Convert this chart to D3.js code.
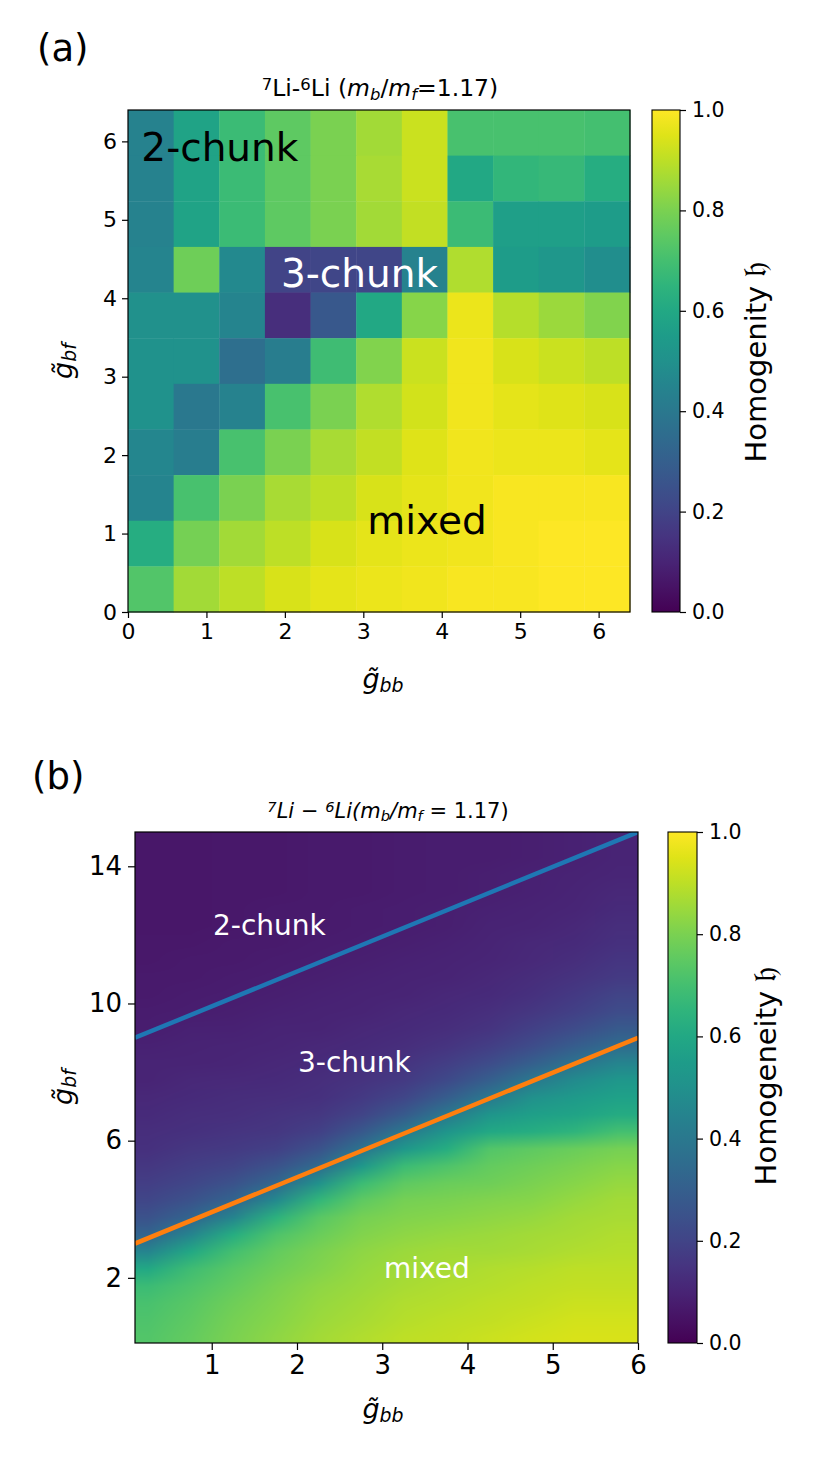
<!DOCTYPE html>
<html><head><meta charset="utf-8">
<script src="https://cdn.jsdelivr.net/npm/d3@7"></script>
<style>body{margin:0;background:#fff} text{font-family:"DejaVu Sans",sans-serif;}</style>
</head><body>
<svg id="chart" width="825" height="1469" xmlns="http://www.w3.org/2000/svg"></svg>
<script>
// ---------------- DATA ----------------
// Panel (a): 11x11 homogeneity grid, rows from top (g_bf high) to bottom, columns g_bb low -> high
const xTicksA = [0, 1, 2, 3, 4, 5, 6];
const yTicksA = [0, 1, 2, 3, 4, 5, 6];
const gridA = [
  [0.44,0.58,0.68,0.75,0.80,0.86,0.92,0.71,0.71,0.71,0.70],
  [0.44,0.58,0.68,0.75,0.80,0.87,0.92,0.60,0.66,0.67,0.62],
  [0.44,0.58,0.68,0.75,0.80,0.86,0.91,0.68,0.56,0.56,0.55],
  [0.45,0.78,0.47,0.20,0.21,0.21,0.44,0.88,0.55,0.53,0.49],
  [0.50,0.50,0.45,0.13,0.27,0.60,0.82,0.97,0.89,0.85,0.81],
  [0.51,0.51,0.36,0.42,0.69,0.81,0.92,0.98,0.94,0.92,0.90],
  [0.51,0.40,0.44,0.71,0.80,0.88,0.93,0.98,0.96,0.95,0.94],
  [0.46,0.42,0.71,0.80,0.87,0.91,0.95,0.98,0.97,0.97,0.96],
  [0.45,0.71,0.80,0.87,0.90,0.94,0.96,0.98,0.99,0.99,0.99],
  [0.62,0.79,0.86,0.90,0.94,0.96,0.97,0.98,0.99,1.00,1.00],
  [0.73,0.86,0.90,0.94,0.96,0.97,0.98,0.99,0.99,1.00,1.00]
];
// Panel (b): sampled homogeneity field, 12 columns (g_bb = 0.25 ... 5.75),
// each listing 30 values from g_bf = 14.75 (top) down to 0.25 (bottom)
const xTicksB = [1, 2, 3, 4, 5, 6];
const yTicksB = [2, 6, 10, 14];
const fieldB = [
  [0.06,0.06,0.06,0.06,0.06,0.06,0.065,0.065,0.07,0.07,0.075,0.08,0.09,0.1,0.1,0.11,0.12,0.13,0.14,0.16,0.18,0.21,0.25,0.32,0.45,0.6,0.68,0.71,0.72,0.73],
  [0.06,0.06,0.06,0.06,0.06,0.06,0.065,0.07,0.07,0.075,0.08,0.09,0.095,0.1,0.11,0.12,0.13,0.14,0.16,0.18,0.21,0.25,0.32,0.45,0.6,0.69,0.72,0.74,0.75,0.76],
  [0.065,0.065,0.065,0.065,0.065,0.065,0.07,0.07,0.075,0.08,0.085,0.09,0.1,0.105,0.115,0.125,0.135,0.15,0.17,0.2,0.25,0.32,0.45,0.62,0.7,0.74,0.76,0.78,0.79,0.8],
  [0.065,0.065,0.065,0.065,0.07,0.07,0.07,0.075,0.08,0.085,0.09,0.1,0.105,0.11,0.12,0.13,0.145,0.16,0.19,0.25,0.33,0.47,0.64,0.72,0.76,0.78,0.8,0.81,0.82,0.83],
  [0.07,0.07,0.07,0.07,0.07,0.07,0.075,0.08,0.085,0.09,0.095,0.1,0.11,0.12,0.13,0.14,0.16,0.19,0.25,0.34,0.5,0.66,0.74,0.77,0.8,0.81,0.83,0.84,0.85,0.86],
  [0.07,0.07,0.07,0.07,0.075,0.075,0.08,0.085,0.09,0.095,0.1,0.11,0.12,0.13,0.145,0.165,0.2,0.27,0.38,0.53,0.68,0.75,0.79,0.81,0.83,0.84,0.85,0.86,0.87,0.88],
  [0.075,0.075,0.075,0.075,0.08,0.08,0.085,0.09,0.095,0.1,0.11,0.12,0.13,0.15,0.17,0.21,0.28,0.4,0.53,0.68,0.75,0.79,0.81,0.83,0.85,0.86,0.87,0.88,0.89,0.9],
  [0.08,0.08,0.08,0.08,0.085,0.085,0.09,0.095,0.1,0.11,0.12,0.13,0.15,0.18,0.22,0.29,0.4,0.52,0.62,0.72,0.77,0.8,0.82,0.84,0.86,0.87,0.88,0.89,0.9,0.91],
  [0.08,0.08,0.085,0.085,0.09,0.095,0.1,0.105,0.11,0.12,0.135,0.15,0.18,0.23,0.3,0.4,0.52,0.6,0.73,0.76,0.78,0.81,0.83,0.85,0.86,0.88,0.89,0.9,0.91,0.92],
  [0.085,0.085,0.09,0.09,0.095,0.1,0.11,0.115,0.125,0.14,0.16,0.19,0.23,0.3,0.4,0.5,0.56,0.62,0.75,0.78,0.8,0.82,0.84,0.86,0.87,0.89,0.9,0.91,0.92,0.93],
  [0.09,0.09,0.095,0.1,0.105,0.11,0.12,0.13,0.145,0.165,0.19,0.23,0.29,0.38,0.48,0.54,0.58,0.65,0.77,0.8,0.82,0.84,0.86,0.87,0.88,0.9,0.91,0.92,0.93,0.94],
  [0.1,0.1,0.105,0.11,0.12,0.13,0.14,0.155,0.17,0.2,0.23,0.28,0.35,0.45,0.53,0.57,0.61,0.7,0.79,0.82,0.84,0.86,0.87,0.88,0.89,0.9,0.91,0.92,0.93,0.94]
];
const blueLineX = [0.1, 6.0];
const blueLineY = [9.0, 15.0];
const orangeLineX = [0.1, 6.0];
const orangeLineY = [3.0, 9.0];
const cbTicks = [0.0, 0.2, 0.4, 0.6, 0.8, 1.0];

// ---------------- DRAWING ----------------
const svg = d3.select("#chart");
const cmap = d3.interpolateViridis;

function rich(sel, parts) {
  parts.forEach(p => {
    const ts = sel.append("tspan").text(p.t);
    if (p.it) ts.attr("font-style", "italic");
    if (p.sub) ts.attr("font-size", "70%").attr("baseline-shift", "-22%");
    if (p.sup) ts.attr("font-size", "70%").attr("baseline-shift", "40%");
  });
  return sel;
}

function colorbar(g, x0, x1, y0, y1, labelText, fsTick, fsLab, labX, labY) {
  const id = "grad" + Math.round(y0);
  const grad = svg.append("defs").append("linearGradient").attr("id", id)
    .attr("x1", 0).attr("y1", 1).attr("x2", 0).attr("y2", 0);
  d3.range(0, 1.0001, 0.05).forEach(t => grad.append("stop").attr("offset", t).attr("stop-color", cmap(t)));
  const cs = d3.scaleLinear().domain([0, 1]).range([y1, y0]);
  g.append("rect").attr("x", x0).attr("y", y0).attr("width", x1 - x0).attr("height", y1 - y0)
    .attr("fill", `url(#${id})`).attr("stroke", "#000").attr("stroke-width", 1.1);
  const ax = g.append("g").attr("transform", `translate(${x1},0)`)
    .call(d3.axisRight(cs).tickValues(cbTicks).tickFormat(d3.format(".1f")).tickSize(6).tickPadding(6));
  ax.select(".domain").remove();
  ax.selectAll("line").attr("stroke-width", 1.2);
  ax.selectAll("text").attr("font-size", fsTick).attr("fill", "#000");
  const lab = g.append("text").attr("transform", `translate(${labX},${labY}) rotate(-90)`)
    .attr("text-anchor", "middle").attr("font-size", fsLab);
  lab.append("tspan").text(labelText + " ");
  lab.append("tspan").text("\u{1D525}").attr("font-family", "DejaVu Serif, DejaVu Sans, Noto Sans, serif").attr("font-size", "115%");
}

// ---------- Panel (a) ----------
{
  const L = 128, R = 630, T = 110, B = 612;
  const x = d3.scaleLinear().domain([0, 6.4]).range([L, R]);
  const y = d3.scaleLinear().domain([0, 6.4]).range([B, T]);
  const n = gridA.length, w = 6.4 / n;
  const g = svg.append("g");
  gridA.forEach((row, r) => row.forEach((v, c) => {
    g.append("rect")
      .attr("x", x(c * w)).attr("width", x((c + 1) * w) - x(c * w) + 0.4)
      .attr("y", y(6.4 - r * w)).attr("height", y(6.4 - (r + 1) * w) - y(6.4 - r * w) + 0.4)
      .attr("fill", cmap(v));
  }));
  g.append("rect").attr("x", L).attr("y", T).attr("width", R - L).attr("height", B - T)
    .attr("fill", "none").attr("stroke", "#000").attr("stroke-width", 1.2);
  const xa = g.append("g").attr("transform", `translate(0,${B})`)
    .call(d3.axisBottom(x).tickValues(xTicksA).tickFormat(d3.format("d")).tickSize(6).tickPadding(5));
  const ya = g.append("g").attr("transform", `translate(${L},0)`)
    .call(d3.axisLeft(y).tickValues(yTicksA).tickFormat(d3.format("d")).tickSize(6).tickPadding(5));
  [xa, ya].forEach(a => { a.select(".domain").remove(); a.selectAll("line").attr("stroke-width", 1.2);
    a.selectAll("text").attr("font-size", 22).attr("fill", "#000"); });

  svg.append("text").attr("x", 37).attr("y", 61).attr("font-size", 37).text("(a)");
  rich(svg.append("text").attr("x", 380).attr("y", 96).attr("text-anchor", "middle").attr("font-size", 23.5),
    [{t: "7", sup: 1}, {t: "Li-"}, {t: "6", sup: 1}, {t: "Li ("}, {t: "m", it: 1}, {t: "b", it: 1, sub: 1},
     {t: "/"}, {t: "m", it: 1}, {t: "f", it: 1, sub: 1}, {t: "=1.17)"}]);
  rich(svg.append("text").attr("x", 383).attr("y", 688).attr("text-anchor", "middle").attr("font-size", 27),
    [{t: "g\u0303", it: 1}, {t: "bb", it: 1, sub: 1}]);
  rich(svg.append("text").attr("transform", "translate(72,361) rotate(-90)").attr("text-anchor", "middle").attr("font-size", 27),
    [{t: "g\u0303", it: 1}, {t: "bf", it: 1, sub: 1}]);

  svg.append("text").attr("x", x(0.17)).attr("y", 161).attr("font-size", 39).attr("fill", "#000").text("2-chunk");
  svg.append("text").attr("x", x(1.95)).attr("y", 287).attr("font-size", 39).attr("fill", "#fff").text("3-chunk");
  svg.append("text").attr("x", x(3.05)).attr("y", 534).attr("font-size", 39).attr("fill", "#000").text("mixed");

  colorbar(svg.append("g"), 652, 680, T, B, "Homogenity", 20.5, 29, 766, 362);
}

// ---------- Panel (b) ----------
{
  const L = 135, R = 638, T = 832, B = 1343;
  const x = d3.scaleLinear().domain([0.1, 6]).range([L, R]);
  const y = d3.scaleLinear().domain([0.1, 15]).range([B, T]);
  const g = svg.append("g");
  const clipId = "clipB";
  svg.append("defs").append("clipPath").attr("id", clipId)
    .append("rect").attr("x", L).attr("y", T).attr("width", R - L).attr("height", B - T);

  // sampled field drawn as a smoothly resampled image over extent [0,6] x [0,15]
  const nc = fieldB.length, nr = fieldB[0].length;
  const small = document.createElement("canvas");
  small.width = nc; small.height = nr;
  const sctx = small.getContext("2d");
  fieldB.forEach((col, i) => col.forEach((v, j) => { sctx.fillStyle = cmap(v); sctx.fillRect(i, j, 1, 1); }));
  const ix0 = x(0), ix1 = x(6), iy0 = y(15), iy1 = y(0);
  const W = Math.round(ix1 - ix0), H = Math.round(iy1 - iy0);
  const big = document.createElement("canvas");
  big.width = W; big.height = H;
  const bctx = big.getContext("2d");
  bctx.imageSmoothingEnabled = true;
  bctx.imageSmoothingQuality = "medium";
  bctx.drawImage(small, 0, 0, W, H);
  g.append("image").attr("href", big.toDataURL()).attr("x", ix0).attr("y", iy0)
    .attr("width", W).attr("height", H).attr("preserveAspectRatio", "none")
    .attr("clip-path", `url(#${clipId})`);

  const line = d3.line().x(d => x(d[0])).y(d => y(d[1]));
  g.append("path").datum(blueLineX.map((v, i) => [v, blueLineY[i]])).attr("d", line)
    .attr("stroke", "#1f77b4").attr("stroke-width", 4.5).attr("fill", "none").attr("clip-path", `url(#${clipId})`);
  g.append("path").datum(orangeLineX.map((v, i) => [v, orangeLineY[i]])).attr("d", line)
    .attr("stroke", "#ff7f0e").attr("stroke-width", 4.5).attr("fill", "none").attr("clip-path", `url(#${clipId})`);

  g.append("rect").attr("x", L).attr("y", T).attr("width", R - L).attr("height", B - T)
    .attr("fill", "none").attr("stroke", "#000").attr("stroke-width", 1.2);
  const xa = g.append("g").attr("transform", `translate(0,${B})`)
    .call(d3.axisBottom(x).tickValues(xTicksB).tickFormat(d3.format("d")).tickSize(7).tickPadding(6));
  const ya = g.append("g").attr("transform", `translate(${L},0)`)
    .call(d3.axisLeft(y).tickValues(yTicksB).tickFormat(d3.format("d")).tickSize(7).tickPadding(6));
  [xa, ya].forEach(a => { a.select(".domain").remove(); a.selectAll("line").attr("stroke-width", 1.2);
    a.selectAll("text").attr("font-size", 26).attr("fill", "#000"); });

  svg.append("text").attr("x", 32).attr("y", 789).attr("font-size", 37).text("(b)");
  rich(svg.append("text").attr("x", 388).attr("y", 818).attr("text-anchor", "middle").attr("font-size", 21),
    [{t: "7", it: 1, sup: 1}, {t: "Li", it: 1}, {t: " \u2212 "}, {t: "6", it: 1, sup: 1}, {t: "Li(", it: 1}, {t: "m", it: 1}, {t: "b", it: 1, sub: 1},
     {t: "/", it: 1}, {t: "m", it: 1}, {t: "f", it: 1, sub: 1}, {t: " = 1.17)"}]);
  rich(svg.append("text").attr("x", 383).attr("y", 1418).attr("text-anchor", "middle").attr("font-size", 27),
    [{t: "g\u0303", it: 1}, {t: "bb", it: 1, sub: 1}]);
  rich(svg.append("text").attr("transform", "translate(72,1087) rotate(-90)").attr("text-anchor", "middle").attr("font-size", 27),
    [{t: "g\u0303", it: 1}, {t: "bf", it: 1, sub: 1}]);

  svg.append("text").attr("x", 213).attr("y", 935).attr("font-size", 28).attr("fill", "#fff").text("2-chunk");
  svg.append("text").attr("x", 298).attr("y", 1072).attr("font-size", 28).attr("fill", "#fff").text("3-chunk");
  svg.append("text").attr("x", 384).attr("y", 1278).attr("font-size", 28).attr("fill", "#fff").text("mixed");

  colorbar(svg.append("g"), 668, 697, T, B, "Homogeneity", 20.5, 29, 776, 1076);
}
</script>
</body></html>
